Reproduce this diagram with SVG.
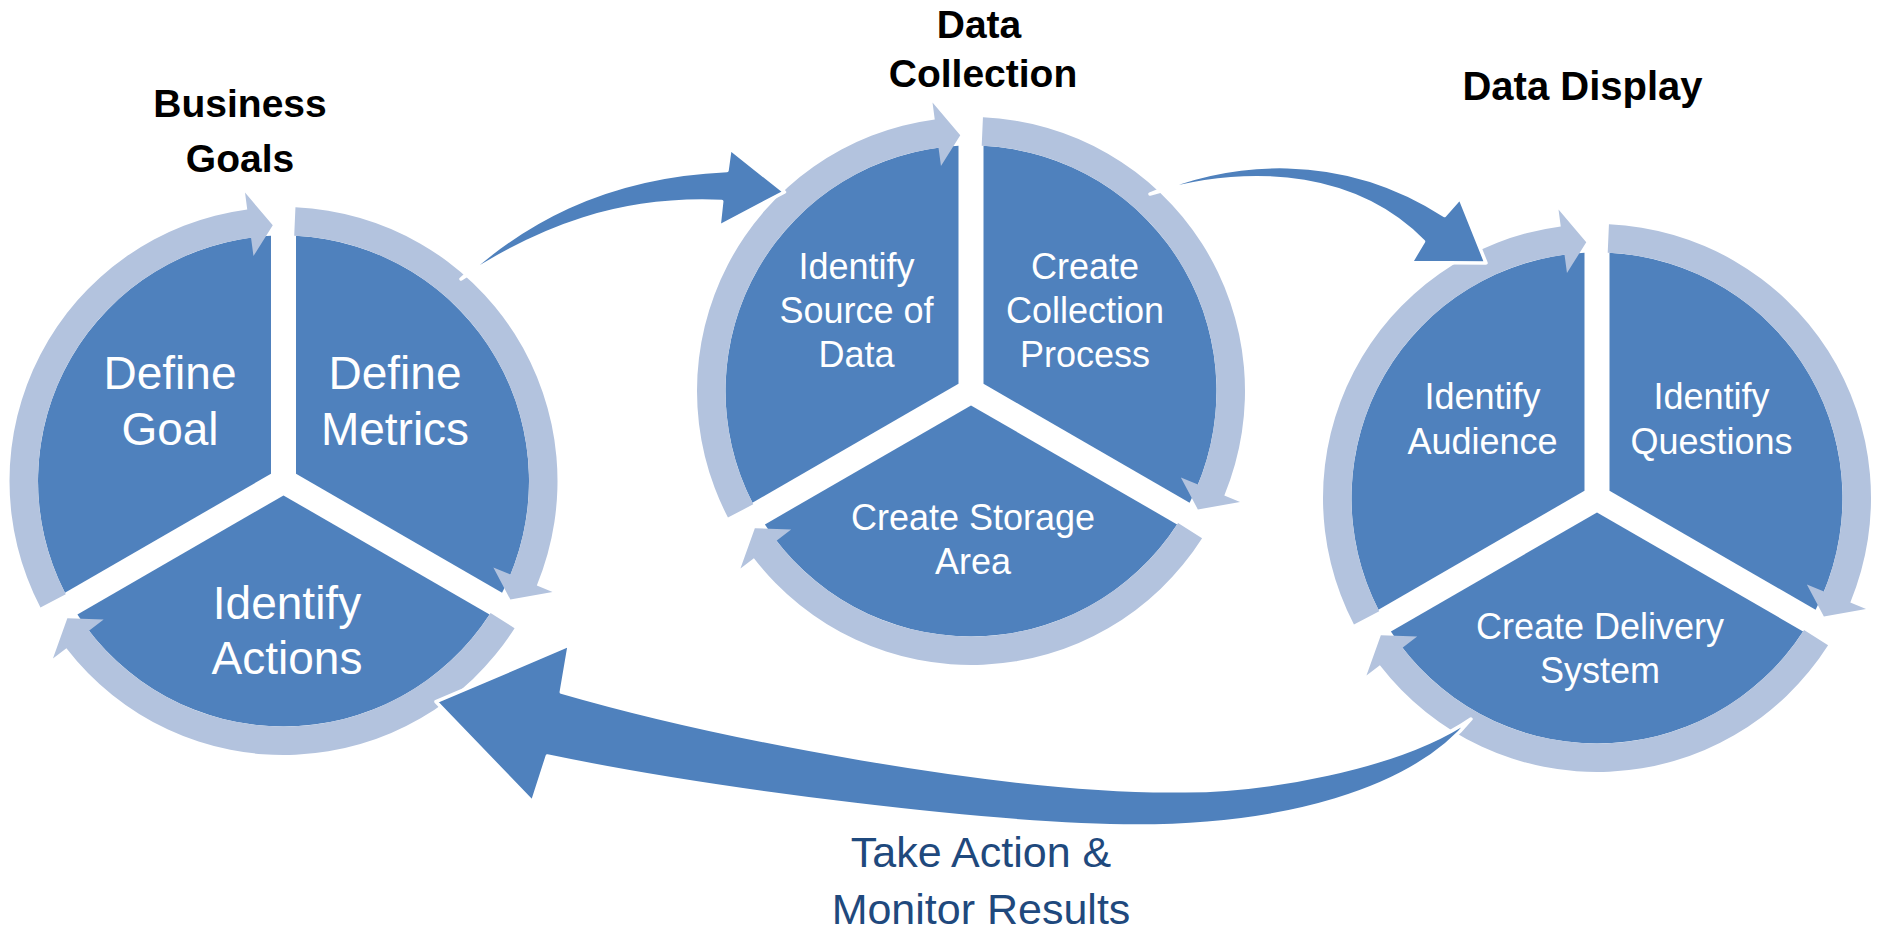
<svg xmlns="http://www.w3.org/2000/svg" xmlns:xlink="http://www.w3.org/1999/xlink" width="1878" height="934" viewBox="0 0 1878 934">
<style>
.pie{fill:#4F81BD}
.ring{fill:#B3C3DE}
.big{fill:#4F81BD;stroke:#FFFFFF;stroke-width:3.5;stroke-linejoin:round}
.t1{font-family:"Liberation Sans",Arial,sans-serif;font-size:46px;fill:#FFFFFF;text-anchor:middle}
.t2{font-family:"Liberation Sans",Arial,sans-serif;font-size:36px;fill:#FFFFFF;text-anchor:middle}
.title{font-family:"Liberation Sans",Arial,sans-serif;font-size:39px;font-weight:bold;fill:#000000;text-anchor:middle}
.lbl{font-family:"Liberation Sans",Arial,sans-serif;font-size:43px;fill:#1F497D;text-anchor:middle}
</style>
<defs>
<path id="pie" d="M12.5,-7.22 L12.5,-245.18 A245.5,245.5 0 0 1 218.59,111.76 Z"/>
<path id="ringArc" d="M11.95,-273.74 A274,274 0 0 1 253.33,104.41 L269.04,110.89 L226.87,118.6 L209.87,86.5 L226.98,93.55 A245.5,245.5 0 0 0 10.71,-245.27 Z"/>
</defs>
<rect width="1878" height="934" fill="#FFFFFF"/>

<g id="business-goals">
<text class="title" x="240" y="117">Business</text>
<text class="title" x="240" y="172">Goals</text>
<g id="define-goal">
<use xlink:href="#pie" class="pie" transform="translate(283.5,481) rotate(-120)"/>
<text class="t1" x="170" y="389">Define</text>
<text class="t1" x="170" y="444.5">Goal</text>
</g>
<g id="define-metrics">
<use xlink:href="#pie" class="pie" transform="translate(283.5,481)"/>
<text class="t1" x="395" y="389">Define</text>
<text class="t1" x="395" y="444.5">Metrics</text>
</g>
<g id="identify-actions">
<use xlink:href="#pie" class="pie" transform="translate(283.5,481) rotate(120)"/>
<text class="t1" x="287" y="618.5">Identify</text>
<text class="t1" x="287" y="674">Actions</text>
</g>
</g>

<g id="data-collection">
<text class="title" x="979" y="38">Data</text>
<text class="title" x="983" y="87">Collection</text>
<g id="identify-source">
<use xlink:href="#pie" class="pie" transform="translate(971,391) rotate(-120)"/>
<text class="t2" x="856.5" y="278.5">Identify</text>
<text class="t2" x="856.5" y="322.5">Source of</text>
<text class="t2" x="856.5" y="366.5">Data</text>
</g>
<g id="create-collection">
<use xlink:href="#pie" class="pie" transform="translate(971,391)"/>
<text class="t2" x="1085" y="278.5">Create</text>
<text class="t2" x="1085" y="322.5">Collection</text>
<text class="t2" x="1085" y="366.5">Process</text>
</g>
<g id="create-storage">
<use xlink:href="#pie" class="pie" transform="translate(971,391) rotate(120)"/>
<text class="t2" x="973" y="530">Create Storage</text>
<text class="t2" x="973" y="573.5">Area</text>
</g>
</g>

<g id="data-display">
<text class="title" x="1582.5" y="100" style="font-size:40px">Data Display</text>
<g id="identify-audience">
<use xlink:href="#pie" class="pie" transform="translate(1597,498) rotate(-120)"/>
<text class="t2" x="1482.5" y="409">Identify</text>
<text class="t2" x="1482.5" y="453.5">Audience</text>
</g>
<g id="identify-questions">
<use xlink:href="#pie" class="pie" transform="translate(1597,498)"/>
<text class="t2" x="1711.5" y="409">Identify</text>
<text class="t2" x="1711.5" y="453.5">Questions</text>
</g>
<g id="create-delivery">
<use xlink:href="#pie" class="pie" transform="translate(1597,498) rotate(120)"/>
<text class="t2" x="1600" y="638.5">Create Delivery</text>
<text class="t2" x="1600" y="683">System</text>
</g>
</g>

<g id="connectors">
<use xlink:href="#ringArc" class="ring" transform="translate(283.5,481) rotate(-120)"/>
<use xlink:href="#ringArc" class="ring" transform="translate(283.5,481)"/>
<use xlink:href="#ringArc" class="ring" transform="translate(283.5,481) rotate(120)"/>
<use xlink:href="#ringArc" class="ring" transform="translate(971,391) rotate(-120)"/>
<use xlink:href="#ringArc" class="ring" transform="translate(971,391)"/>
<use xlink:href="#ringArc" class="ring" transform="translate(971,391) rotate(120)"/>
<use xlink:href="#ringArc" class="ring" transform="translate(1597,498) rotate(-120)"/>
<use xlink:href="#ringArc" class="ring" transform="translate(1597,498)"/>
<use xlink:href="#ringArc" class="ring" transform="translate(1597,498) rotate(120)"/>
<path id="arrow-goals-to-collection" class="big" d="M461,279 C519,226 600,176 727,170.5 L730,148.7 L784.5,192 L719,226.5 L721.7,201.5 C620,197 540,227 461,279 Z"/>
<path id="arrow-collection-to-display" class="big" d="M1150,194 C1228,160 1340,148 1444.5,215.5 L1460,198 L1486,263 L1411,262.5 L1423.5,241.5 C1360,177 1260,162 1150,194 Z"/>
<path id="arrow-display-to-goals" class="big" d="M1471,719 C1400,768 1260,793 1171.7,790.7 C1000,791 720,738 561.3,692 L569.3,645 L436,701.7 L532.5,802 L547.3,756 C720,792 1000,826 1136.6,826 C1280,826 1412,792 1471,719 Z"/>
</g>

<g id="label">
<text class="lbl" x="981" y="867">Take Action &amp;</text>
<text class="lbl" x="981" y="924">Monitor Results</text>
</g>
</svg>
